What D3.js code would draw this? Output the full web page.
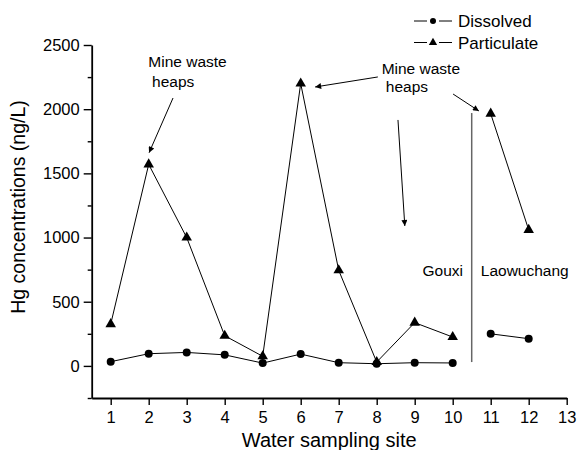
<!DOCTYPE html>
<html>
<head>
<meta charset="utf-8">
<script src="https://cdn.jsdelivr.net/npm/d3@7"></script>
<style>
  body { margin: 0; background: #fff; }
  svg { font-family: "Liberation Sans", Arial, sans-serif; }
</style>
</head>
<body>
<svg id="chart"></svg>
<script>
// data (ng/L)
const sites = [1, 2, 3, 4, 5, 6, 7, 8, 9, 10, 11, 12];
const reach = ["Gouxi", "Gouxi", "Gouxi", "Gouxi", "Gouxi", "Gouxi", "Gouxi", "Gouxi", "Gouxi", "Gouxi", "Laowuchang", "Laowuchang"];
const dissolved = [33, 95, 105, 86, 22, 92, 25, 17, 25, 23, 250, 212];
const particulate = [325, 1570, 1000, 235, 75, 2200, 745, 30, 337, 225, 1965, 1060];
const yTicks = [0, 500, 1000, 1500, 2000, 2500];
const yMinor = [-250, 250, 750, 1250, 1750, 2250];
const xTicks = [1, 2, 3, 4, 5, 6, 7, 8, 9, 10, 11, 12, 13];

// annotation arrows, in data units (site, ng/L)
const arrows = [
  { x1: 2.64, y1: 2087, x2: 2.01, y2: 1661 },
  { x1: 8.03, y1: 2251, x2: 6.38, y2: 2173 },
  { x1: 10.01, y1: 2118, x2: 10.69, y2: 1986 },
  { x1: 8.56, y1: 1916, x2: 8.74, y2: 1090 }
];
const notes = [
  { x: 1.99, y: 2329, text: "Mine waste", anchor: "start" },
  { x: 2.09, y: 2175, text: "heaps", anchor: "start" },
  { x: 8.13, y: 2274, text: "Mine waste", anchor: "start" },
  { x: 8.24, y: 2134, text: "heaps", anchor: "start" }
];

const width = 578;
const height = 450;

const svg = d3.select("#chart")
  .attr("width", width)
  .attr("height", height);

const x = d3.scaleLinear().domain([0.5, 13]).range([91.7, 566.7]);
const y = d3.scaleLinear().domain([-250, 2500]).range([398, 45]);

// markers for arrow heads
svg.append("defs").append("marker")
  .attr("id", "head")
  .attr("viewBox", "0 0 10 10")
  .attr("refX", 10)
  .attr("refY", 5)
  .attr("markerWidth", 9)
  .attr("markerHeight", 6)
  .attr("markerUnits", "userSpaceOnUse")
  .attr("orient", "auto")
  .append("path")
  .attr("d", "M0,0L10,5L0,10Z")
  .attr("fill", "#000");

// axes
const yAxis = svg.append("g")
  .attr("transform", `translate(${x(0.5)},0)`)
  .call(d3.axisLeft(y).tickValues(yTicks).tickFormat(d3.format("d"))
    .tickSize(8).tickSizeOuter(0).tickPadding(4));
yAxis.append("g")
  .call(d3.axisLeft(y).tickValues(yMinor).tickSize(4).tickFormat(""))
  .select(".domain").remove();

const xAxis = svg.append("g")
  .attr("transform", `translate(0,${y(-250)})`)
  .call(d3.axisBottom(x).tickValues(xTicks).tickFormat(d3.format("d"))
    .tickSize(7).tickSizeOuter(0).tickPadding(6));

svg.selectAll(".domain").attr("stroke-width", 1.8).attr("stroke", "#000");
svg.selectAll(".tick line").attr("stroke-width", 1.4).attr("stroke", "#000");
svg.selectAll(".tick text")
  .attr("font-size", 16.5)
  .attr("font-family", "Liberation Sans, Arial, sans-serif")
  .attr("fill", "#000");

// axis titles
svg.append("text")
  .attr("x", (x(0.5) + x(13)) / 2)
  .attr("y", 447)
  .attr("text-anchor", "middle")
  .attr("font-size", 20)
  .text("Water sampling site");

svg.append("text")
  .attr("transform", "rotate(-90)")
  .attr("x", -207)
  .attr("y", 25)
  .attr("text-anchor", "middle")
  .attr("font-size", 19.5)
  .text("Hg concentrations (ng/L)");

// divider between the two reaches
svg.append("line")
  .attr("x1", x(10.5)).attr("x2", x(10.5))
  .attr("y1", y(1970)).attr("y2", y(30))
  .attr("stroke", "#666")
  .attr("stroke-width", 1.5);

svg.append("text")
  .attr("x", x(10.27)).attr("y", y(701))
  .attr("text-anchor", "end")
  .attr("font-size", 15.5)
  .text("Gouxi");
svg.append("text")
  .attr("x", x(10.74)).attr("y", y(701))
  .attr("font-size", 15.5)
  .text("Laowuchang");

// series
const rows = sites.map((s, i) => ({ site: s, reach: reach[i], dissolved: dissolved[i], particulate: particulate[i] }));
const byReach = d3.groups(rows, d => d.reach);

const series = [
  { key: "dissolved", label: "Dissolved", symbol: null },
  { key: "particulate", label: "Particulate", symbol: d3.symbolTriangle }
];

series.forEach(s => {
  const line = d3.line().x(d => x(d.site)).y(d => y(d[s.key]));
  svg.append("g")
    .selectAll("path")
    .data(byReach)
    .enter().append("path")
    .attr("d", d => line(d[1]))
    .attr("fill", "none")
    .attr("stroke", "#000")
    .attr("stroke-width", 1);

  const pts = svg.append("g").selectAll("g")
    .data(rows)
    .enter();
  if (s.symbol) {
    pts.append("path")
      .attr("d", d3.symbol(s.symbol, 48))
      .attr("transform", d => `translate(${x(d.site)},${y(d[s.key])})`)
      .attr("fill", "#000");
  } else {
    pts.append("circle")
      .attr("cx", d => x(d.site))
      .attr("cy", d => y(d[s.key]))
      .attr("r", 4)
      .attr("fill", "#000");
  }
});

// annotations
svg.append("g")
  .selectAll("line")
  .data(arrows)
  .enter().append("line")
  .attr("x1", d => x(d.x1)).attr("y1", d => y(d.y1))
  .attr("x2", d => x(d.x2)).attr("y2", d => y(d.y2))
  .attr("stroke", "#000")
  .attr("stroke-width", 1)
  .attr("marker-end", "url(#head)");

svg.append("g")
  .selectAll("text")
  .data(notes)
  .enter().append("text")
  .attr("x", d => x(d.x))
  .attr("y", d => y(d.y))
  .attr("text-anchor", d => d.anchor)
  .attr("font-size", 15.5)
  .text(d => d.text);

// legend
const legend = svg.append("g").attr("transform", "translate(414,0)");
series.forEach((s, i) => {
  const ly = 21 + i * 21.5;
  legend.append("line").attr("x1", 0).attr("x2", 13).attr("y1", ly).attr("y2", ly).attr("stroke", "#000");
  legend.append("line").attr("x1", 25).attr("x2", 38).attr("y1", ly).attr("y2", ly).attr("stroke", "#000");
  if (s.symbol) {
    legend.append("path")
      .attr("d", d3.symbol(s.symbol, 30))
      .attr("transform", `translate(19,${ly})`);
  } else {
    legend.append("circle").attr("cx", 19).attr("cy", ly).attr("r", 3);
  }
  legend.append("text")
    .attr("x", 44)
    .attr("y", ly)
    .attr("dy", "0.36em")
    .attr("font-size", 17)
    .text(s.label);
});
</script>
</body>
</html>
